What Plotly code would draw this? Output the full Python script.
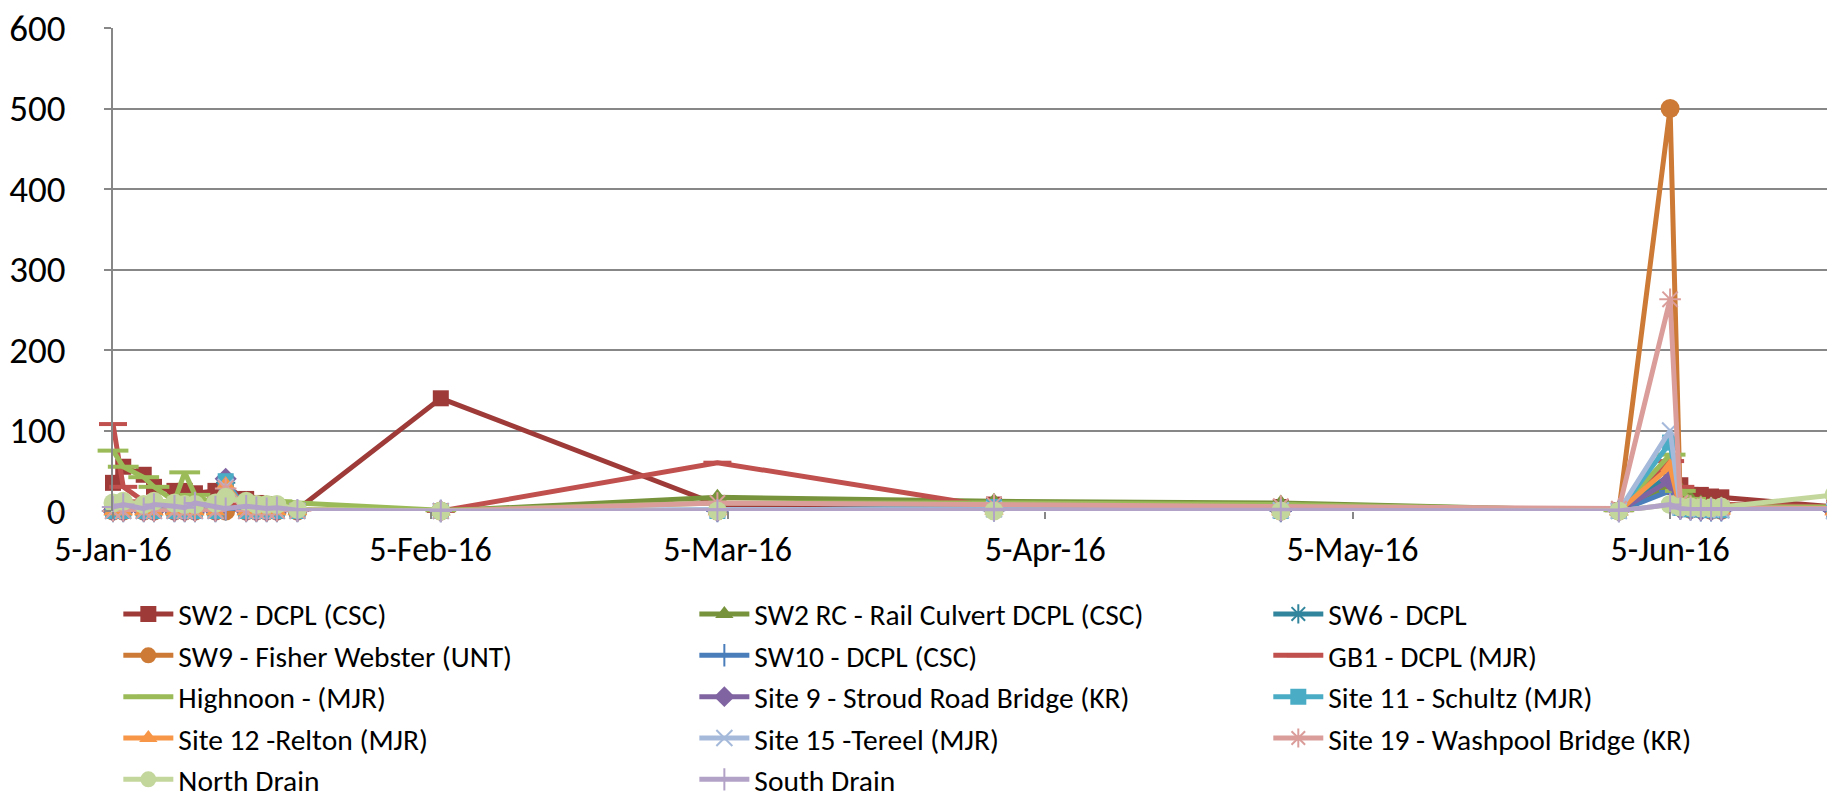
import plotly.graph_objects as go

# sampling dates (x axis)
dates = [
    "2016-01-05", "2016-01-06", "2016-01-08", "2016-01-09", "2016-01-11",
    "2016-01-12", "2016-01-13", "2016-01-15", "2016-01-16", "2016-01-18",
    "2016-01-19", "2016-01-20", "2016-01-21", "2016-01-23", "2016-02-06",
    "2016-03-04", "2016-03-31", "2016-04-28", "2016-05-31", "2016-06-05",
    "2016-06-06", "2016-06-07", "2016-06-08", "2016-06-09", "2016-06-10",
    "2016-06-21",
]

sw2_dcpl = [35, 55, 45, 30, 25, 25, 22, 25, 30, 15, 10, 8, 5, 2, 140, 8, 8, 5, 1, 30, 32, 20, 20, 18, 17, 5]
sw2_rc = [4, 5, 3, 3, 2, 2, 2, 3, 5, 3, 2, 2, 2, 1, 0, 17, 12, 10, 0, 30, 27, 15, 10, 8, 8, 3]
sw6 = [0, 0, 0, 0, 0, 0, 0, 0, 35, 0, 0, 0, 0, 0, 0, 0, 2, 1, 0, 45, 3, 2, 2, 1, 1, 0]
sw9 = [0, 0, 0, 0, 0, 0, 0, 0, 0, 0, 0, 0, 0, 0, 0, 0, 1, 0, 0, 500, 5, 2, 2, 1, 1, 0]
sw10 = [0, 0, 0, 0, 0, 0, 0, 0, 2, 0, 0, 0, 0, 0, 0, 0, 1, 0, 0, 25, 3, 2, 1, 1, 1, 0]
gb1 = [108, 30, 12, 8, 5, 5, 5, 5, 8, 5, 5, 3, 3, 2, 0, 60, 5, 5, 1, 62, 30, 12, 10, 8, 8, 5]
highnoon = [75, 55, 42, 30, 12, 48, 20, 8, 15, 14, 16, 15, 12, 10, 1, 10, 10, 8, 1, 70, 25, 15, 10, 8, 5, 5]
site9 = [0, 0, 0, 0, 0, 0, 0, 0, 40, 0, 0, 0, 0, 0, 0, 0, 1, 0, 0, 38, 3, 2, 1, 1, 1, 0]
site11 = [0, 0, 0, 0, 0, 0, 0, 0, 37, 0, 0, 0, 0, 0, 0, 0, 5, 0, 0, 85, 4, 2, 2, 1, 1, 0]
site12 = [0, 0, 0, 0, 0, 0, 0, 0, 33, 0, 0, 0, 0, 0, 0, 0, 1, 0, 0, 55, 3, 2, 1, 1, 1, 0]
site15 = [0, 0, 0, 0, 0, 0, 0, 0, 30, 0, 0, 0, 0, 0, 0, 2, 2, 1, 0, 100, 5, 3, 2, 2, 1, 0]
site19 = [0, 0, 0, 0, 0, 0, 0, 0, 28, 0, 0, 0, 0, 0, 0, 10, 8, 6, 3, 263, 10, 6, 5, 4, 4, 3]
north_drain = [10, 12, 8, 12, 10, 8, 8, 10, 17, 12, 8, 8, 8, 2, 0, 0, 0, 0, 0, 8, 5, 5, 4, 4, 5, 20]
south_drain = [5, 8, 3, 8, 6, 4, 10, 5, 3, 6, 4, 3, 4, 1, 0, 1, 1, 1, 0, 8, 3, 2, 2, 2, 2, 2]

tick_dates = ["2016-01-05", "2016-02-05", "2016-03-05", "2016-04-05", "2016-05-05", "2016-06-05"]
tick_text = ["5-Jan-16", "5-Feb-16", "5-Mar-16", "5-Apr-16", "5-May-16", "5-Jun-16"]

FONT = "Carlito, Calibri, Lato, sans-serif"

# name, values, colour, marker symbol, marker size, legend column
series = [
    ("SW2 - DCPL (CSC)", sw2_dcpl, "#9E3B39", "square", 16, "legend"),
    ("SW2 RC - Rail Culvert DCPL (CSC)", sw2_rc, "#77933C", "triangle-up", 17, "legend2"),
    ("SW6 - DCPL", sw6, "#31859C", "asterisk-open", 16, "legend3"),
    ("SW9 - Fisher Webster (UNT)", sw9, "#CC7A35", "circle", 19, "legend"),
    ("SW10 - DCPL (CSC)", sw10, "#4A7EBB", "cross-thin-open", 16, "legend2"),
    ("GB1 - DCPL (MJR)", gb1, "#C0504D", "line-ew-open", 20, "legend3"),
    ("Highnoon - (MJR)", highnoon, "#9BBB59", "line-ew-open", 22, "legend"),
    ("Site 9 - Stroud Road Bridge (KR)", site9, "#8064A2", "diamond", 17, "legend2"),
    ("Site 11 - Schultz (MJR)", site11, "#4BACC6", "square", 16, "legend3"),
    ("Site 12 -Relton (MJR)", site12, "#F79646", "triangle-up", 17, "legend"),
    ("Site 15 -Tereel (MJR)", site15, "#A5B9DA", "x-thin-open", 16, "legend2"),
    ("Site 19 - Washpool Bridge (KR)", site19, "#DA9D9A", "asterisk-open", 18, "legend3"),
    ("North Drain", north_drain, "#C3D69B", "circle", 19, "legend"),
    ("South Drain", south_drain, "#B3A2C7", "cross-thin-open", 16, "legend2"),
]

fig = go.Figure()
for name, vals, color, symbol, size, leg in series:
    thin = symbol.endswith("-open")
    fig.add_trace(
        go.Scatter(
            x=dates,
            y=vals,
            mode="lines+markers",
            name=name,
            legend=leg,
            line=dict(color=color, width=5),
            marker=dict(
                symbol=symbol,
                size=size,
                color=color,
                line=dict(color=color, width=4 if symbol.startswith("line") else (2 if thin else 0)),
            ),
            cliponaxis=False,
        )
    )


def _legend(x):
    # one vertical legend per column, sitting under the plot
    return dict(
        orientation="v",
        x=x,
        xanchor="left",
        y=-0.16,
        yanchor="top",
        font=dict(family=FONT, size=29.5, color="black"),
        itemwidth=50,
        tracegroupgap=0,
        bgcolor="rgba(0,0,0,0)",
    )


fig.update_layout(
    width=1835,
    height=791,
    template="plotly_white",
    paper_bgcolor="white",
    plot_bgcolor="white",
    font=dict(family=FONT, size=30, color="black"),
    margin=dict(l=105, r=9, t=20, b=288, autoexpand=False),
    showlegend=True,
    legend=_legend(0.0031),
    legend2=_legend(0.3378),
    legend3=_legend(0.6713),
)
fig.update_xaxes(
    type="date",
    range=["2016-01-05", "2016-06-21"],
    tickvals=tick_dates,
    ticktext=tick_text,
    showgrid=False,
    showline=False,
    zeroline=False,
    ticks="outside",
    ticklen=7,
    tickcolor="#878787",
    tickwidth=2,
    tickfont=dict(family=FONT, size=34, color="black"),
    ticklabelstandoff=1,
    ticklabeloverflow="allow",
)
fig.update_yaxes(
    range=[0, 600],
    dtick=100,
    showgrid=True,
    gridcolor="#878787",
    gridwidth=2,
    showline=True,
    linecolor="#878787",
    linewidth=2,
    zeroline=False,
    ticks="outside",
    ticklen=7,
    tickcolor="#878787",
    tickwidth=2,
    tickfont=dict(family=FONT, size=37, color="black"),
    ticklabelstandoff=31,
    ticklabeloverflow="allow",
)

fig.write_html("out.html")
